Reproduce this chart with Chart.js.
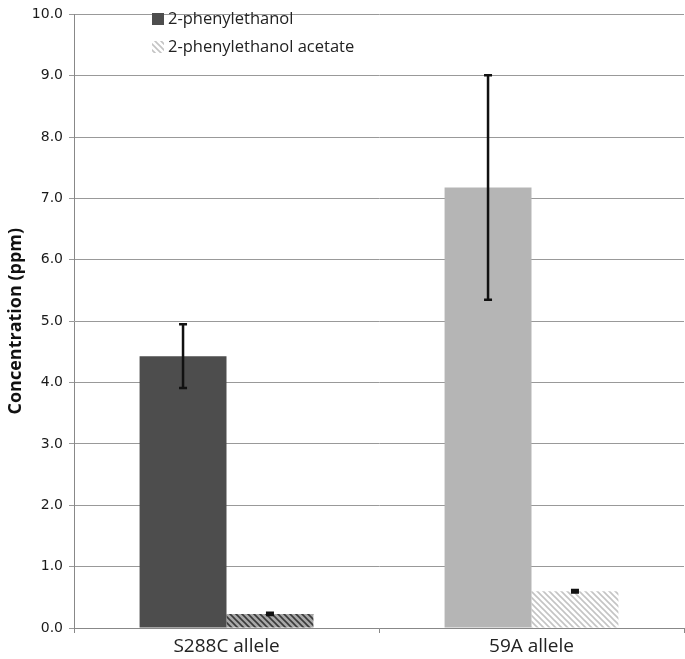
<!DOCTYPE html>
<html>
<head>
<meta charset="utf-8">
<script src="https://cdn.jsdelivr.net/npm/chart.js@4/dist/chart.umd.min.js"></script>
<style>
  html, body { margin: 0; padding: 0; background: #fff; }
  #wrap { width: 685px; height: 659px; position: relative; }
</style>
</head>
<body>
<div id="wrap"><canvas id="chart" width="685" height="659"></canvas></div>
<script>
const categories = ['S288C allele', '59A allele'];
const seriesLabels = ['2-phenylethanol', '2-phenylethanol acetate'];
const phenylethanol = [4.43, 7.18];
const phenylethanolErr = [0.52, 1.83];
const acetate = [0.23, 0.60];
const acetateErr = [0.02, 0.02];
const yTicks = [0, 1, 2, 3, 4, 5, 6, 7, 8, 9, 10];

const solidColors = ['#4d4d4d', '#b5b5b5'];

// diagonal hatch pattern (stripes running top-left to bottom-right)
function makeHatch(stripe, bg) {
    const c = document.createElement('canvas');
    c.width = 6; c.height = 6;
    const g = c.getContext('2d');
    g.fillStyle = bg;
    g.fillRect(0, 0, 6, 6);
    g.strokeStyle = stripe;
    g.lineWidth = 1.6;
    g.beginPath();
    g.moveTo(-1, -1); g.lineTo(7, 7);
    g.moveTo(-4, 2); g.lineTo(4, 10);
    g.moveTo(2, -4); g.lineTo(10, 4);
    g.stroke();
    return g.createPattern(c, 'repeat');
}
const ctx = document.getElementById('chart').getContext('2d');
const hatchColors = [makeHatch('#3a3a3a', '#a8a8a8'), makeHatch('#c4c4c4', '#ffffff')];

const errorBars = {
    id: 'errorBars',
    afterDatasetsDraw(chart) {
        const g = chart.ctx;
        const y = chart.scales.y;
        const errs = [phenylethanolErr, acetateErr];
        g.save();
        g.strokeStyle = '#111';
        g.lineWidth = 2.5;
        chart.data.datasets.forEach((ds, di) => {
            chart.getDatasetMeta(di).data.forEach((bar, i) => {
                const v = ds.data[i];
                const e = errs[di][i];
                const top = y.getPixelForValue(v + e);
                const bot = y.getPixelForValue(v - e);
                g.beginPath();
                g.moveTo(bar.x, top); g.lineTo(bar.x, bot);
                g.moveTo(bar.x - 4, top); g.lineTo(bar.x + 4, top);
                g.moveTo(bar.x - 4, bot); g.lineTo(bar.x + 4, bot);
                g.stroke();
            });
        });
        g.restore();
    }
};

const insideLegend = {
    id: 'insideLegend',
    afterDraw(chart) {
        const g = chart.ctx;
        const fills = [solidColors[0], hatchColors[1]];
        g.save();
        g.font = '16.5px "Open Sans"';
        g.textBaseline = 'middle';
        seriesLabels.forEach((label, i) => {
            const cy = 19 + i * 28;
            g.fillStyle = fills[i];
            g.fillRect(152, cy - 6, 12, 12);
            g.fillStyle = '#222';
            g.fillText(label, 168, cy);
        });
        g.restore();
    }
};

new Chart(ctx, {
    type: 'bar',
    data: {
        labels: categories,
        datasets: [
            {
                label: seriesLabels[0],
                data: phenylethanol,
                backgroundColor: solidColors,
                borderWidth: 0
            },
            {
                label: seriesLabels[1],
                data: acetate,
                backgroundColor: hatchColors,
                borderWidth: 0
            }
        ]
    },
    options: {
        responsive: false,
        animation: false,
        layout: { padding: { top: 7, right: 1, left: 0, bottom: 0 } },
        plugins: {
            legend: { display: false },
            tooltip: { enabled: false }
        },
        datasets: {
            bar: { categoryPercentage: 0.57, barPercentage: 1.0 }
        },
        scales: {
            x: {
                grid: { display: true, drawOnChartArea: false, offset: true, tickLength: 5, color: '#888' },
                border: { color: '#888' },
                ticks: { color: '#222', font: { family: 'Open Sans', size: 19 }, padding: 2 },
                afterFit(scale) { scale.height = 31; }
            },
            y: {
                min: 0,
                max: 10,
                afterBuildTicks(scale) { scale.ticks = yTicks.map(v => ({ value: v })); },
                grid: { color: '#999', tickLength: 5 },
                border: { color: '#888' },
                ticks: {
                    color: '#1a1a1a',
                    padding: 6,
                    font: { family: 'DejaVu Sans', size: 14 },
                    callback: v => v.toFixed(1)
                },
                title: {
                    display: true,
                    text: 'Concentration (ppm)',
                    color: '#111',
                    font: { family: 'Open Sans', size: 18, weight: 'bold' },
                    padding: { top: 5, bottom: 2 }
                },
                afterFit(scale) { scale.width = 74; }
            }
        }
    },
    plugins: [errorBars, insideLegend]
});
</script>
</body>
</html>
